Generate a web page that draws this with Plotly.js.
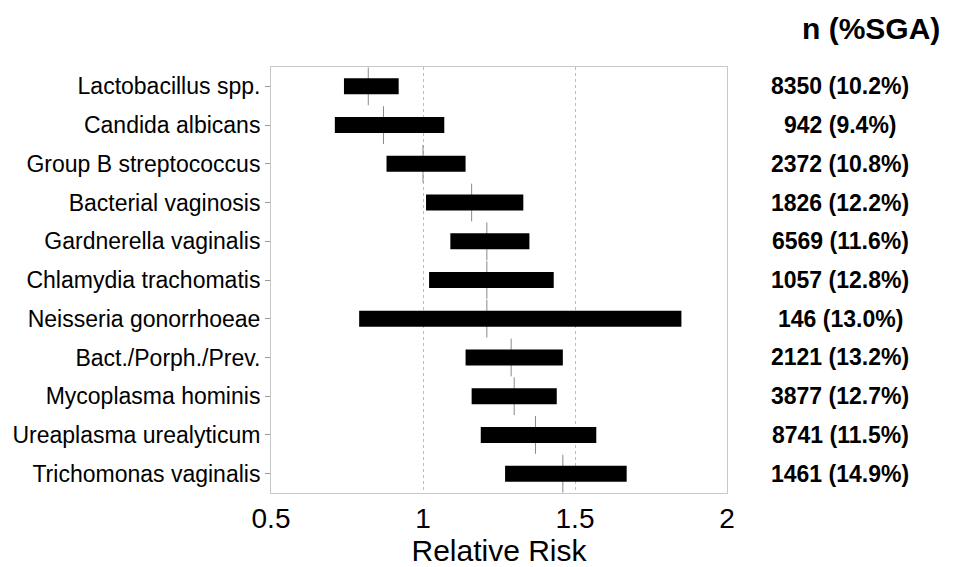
<!DOCTYPE html>
<html>
<head>
<meta charset="utf-8">
<script src="https://cdn.plot.ly/plotly-3.0.1.min.js"></script>
<style>html,body{margin:0;padding:0;background:#fff;}#chart{width:953px;height:567px;}</style>
</head>
<body>
<div id="chart"></div>
<script>
var organisms = ["Lactobacillus spp.", "Candida albicans", "Group B streptococcus", "Bacterial vaginosis",
  "Gardnerella vaginalis", "Chlamydia trachomatis", "Neisseria gonorrhoeae", "Bact./Porph./Prev.",
  "Mycoplasma hominis", "Ureaplasma urealyticum", "Trichomonas vaginalis"];
var ciLow  = [0.74, 0.71, 0.88, 1.01, 1.09, 1.02, 0.79, 1.14, 1.16, 1.19, 1.27];
var ciHigh = [0.92, 1.07, 1.14, 1.33, 1.35, 1.43, 1.85, 1.46, 1.44, 1.57, 1.67];
var rrPoint = [0.82, 0.87, 1.00, 1.16, 1.21, 1.21, 1.21, 1.29, 1.30, 1.37, 1.46];
var nLabels = ["8350 (10.2%)", "942 (9.4%)", "2372 (10.8%)", "1826 (12.2%)", "6569 (11.6%)",
  "1057 (12.8%)", "146 (13.0%)", "2121 (13.2%)", "3877 (12.7%)", "8741 (11.5%)", "1461 (14.9%)"];
var xTickVals = [0.5, 1, 1.5, 2];
var xTickText = ["0.5", "1", "1.5", "2"];

// build CI segments (low -> high) per organism, separated by gaps
var segX = [], segY = [];
organisms.forEach(function (o, i) {
  segX.push(ciLow[i], ciHigh[i], null);
  segY.push(o, o, null);
});

var traces = [
  {
    type: "scatter", mode: "markers", x: rrPoint, y: organisms,
    marker: { symbol: "line-ns-open", size: 27, color: "#8a8a8a", line: { color: "#8a8a8a", width: 1 } },
    hoverinfo: "skip", showlegend: false
  },
  {
    type: "scatter", mode: "lines", x: segX, y: segY, connectgaps: false,
    line: { color: "#000", width: 16 },
    hoverinfo: "skip", showlegend: false
  }
];

var annotations = nLabels.map(function (t, i) {
  return { xref: "paper", yref: "y", x: 1.248, y: organisms[i], text: "<b>" + t + "</b>",
    showarrow: false, xanchor: "center", yanchor: "middle",
    font: { family: "Liberation Sans, Arial, sans-serif", size: 23, color: "#000" } };
});
annotations.push({ xref: "paper", yref: "paper", x: 1.315, y: 1.09, text: "<b>n (%SGA)</b>",
  showarrow: false, xanchor: "center", yanchor: "middle",
  font: { family: "Liberation Sans, Arial, sans-serif", size: 30, color: "#000" } });

var layout = {
  width: 953, height: 567,
  margin: { l: 271, r: 226, t: 67, b: 74, pad: 0 },
  paper_bgcolor: "#fff", plot_bgcolor: "#fff",
  font: { family: "Liberation Sans, Arial, sans-serif", color: "#000" },
  xaxis: {
    range: [0.5, 2], tickvals: xTickVals, ticktext: xTickText,
    showgrid: true, gridcolor: "#bdbdbd", griddash: "dot", gridwidth: 1,
    zeroline: false, showline: true, mirror: true, linecolor: "#c8c8c8", linewidth: 1,
    ticks: "", tickfont: { size: 28, color: "#000" },
    title: { text: "Relative Risk", font: { size: 30, color: "#000" }, standoff: 6 }
  },
  yaxis: {
    type: "category", categoryorder: "array", categoryarray: organisms,
    range: [organisms.length - 0.5, -0.5],
    showgrid: false, zeroline: false, showline: true, mirror: true, linecolor: "#c8c8c8", linewidth: 1,
    ticks: "outside", ticklen: 5, tickcolor: "#999", tickfont: { size: 23, color: "#000" }
  },
  annotations: annotations
};

Plotly.newPlot("chart", traces, layout, { displayModeBar: false, staticPlot: true });
</script>
</body>
</html>
